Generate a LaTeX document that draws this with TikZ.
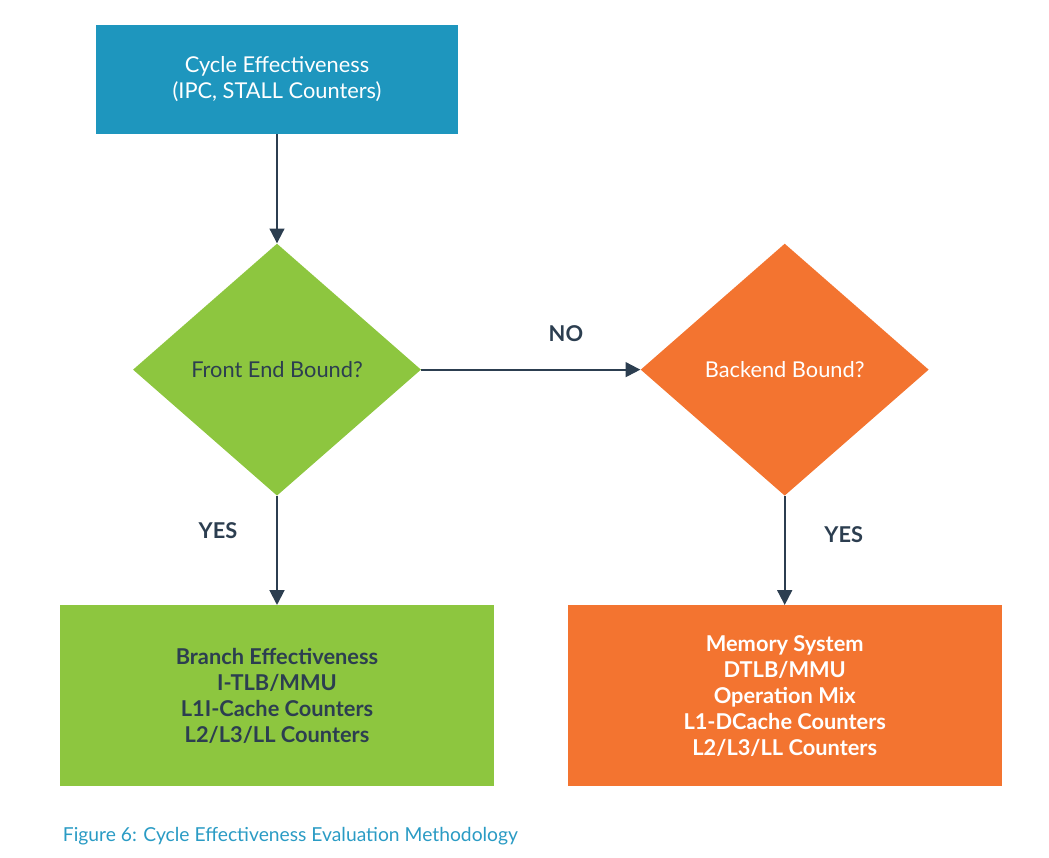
\documentclass[tikz,border=0pt]{standalone}
\usepackage{fontspec}
\setmainfont{Lato}
\usetikzlibrary{positioning,shapes.geometric,arrows.meta}
\definecolor{cycleblue}{HTML}{1E96BE}
\definecolor{boundgreen}{HTML}{8DC63F}
\definecolor{boundorange}{HTML}{F37430}
\definecolor{inkdark}{HTML}{2C3E50}
\definecolor{captionblue}{HTML}{2A9BC4}

\begin{document}
\begin{tikzpicture}[x=0.025cm, y=0.025cm, node distance={2.725cm},
        box/.style = {fill, rectangle, align=center, font=\fontsize{15.5}{18.5}\selectfont},
        decision/.style = {fill, diamond, inner sep=0pt, minimum width=7.2cm, minimum height=6.3cm, font=\fontsize{15.5}{18.5}\selectfont},
        flow/.style = {-{Triangle[width=10.5pt,length=10.5pt]}, line width=1.4pt, inkdark},
        answer/.style = {inkdark, font=\fontsize{15.5}{18}\selectfont\bfseries}]
        \useasboundingbox (0,0) rectangle (1049,-857);

        \node[box, cycleblue, minimum width=9.05cm, minimum height=2.725cm, text=white] (cycle) at (277,-79.5) {Cycle Effectiveness\\(IPC, STALL Counters)};
        \node[decision, boundgreen, text=inkdark] (front) [below = of cycle] {Front End Bound?};
        \node[decision, boundorange, text=white] (back) [right = 5.475cm of front] {Backend Bound?};
        \node[box, boundgreen, minimum width=10.85cm, minimum height=4.525cm, text=inkdark, font=\fontsize{15.5}{18.5}\selectfont\bfseries] (frontcnt) [below = of front] {Branch Effectiveness\\I-TLB/MMU\\L1I-Cache Counters\\L2/L3/LL Counters};
        \node[box, boundorange, minimum width=10.85cm, minimum height=4.525cm, text=white, font=\fontsize{15.5}{18.5}\selectfont\bfseries] (backcnt) [below = of back] {Memory System\\DTLB/MMU\\Operation Mix\\L1-DCache Counters\\L2/L3/LL Counters};

        \draw[flow] (cycle) -- (front);
        \draw[flow] (front) -- (back) node [answer, pos=0.66, above=0.55cm] {NO};
        \draw[flow] (front) -- (frontcnt) node [answer, pos=0.32, left=0.85cm] {YES};
        \draw[flow] (back) -- (backcnt) node [answer, pos=0.35, right=0.85cm] {YES};

        \node[anchor=west, captionblue, font=\fontsize{13.7}{16}\selectfont] (caption) at (58,-836) {Figure 6: Cycle Effectiveness Evaluation Methodology};
    \end{tikzpicture}
\end{document}
